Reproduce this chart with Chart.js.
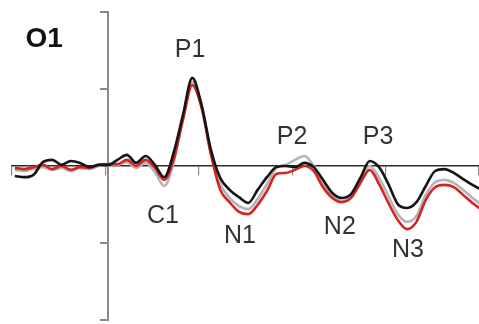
<!DOCTYPE html>
<html>
<head>
<meta charset="utf-8">
<style>
  html, body { margin: 0; padding: 0; background: #fff; }
  #wrap { width: 479px; height: 324px; }
</style>
<script src="https://cdn.jsdelivr.net/npm/chart.js@4"></script>
</head>
<body>
<div id="wrap"><canvas id="c" width="479" height="324"></canvas></div>
<script>
// time in ms
const times = [-100,-90,-80,-70,-60,-50,-40,-30,-20,-10,0,10,20,30,40,50,60,70,80,90,100,110,120,130,140,150,160,170,180,190,200,210,220,230,240,250,260,270,280,290,300,310,320,330,340,350,360,370,380,390,400];
// amplitude (µV)
const blackSeries = [-0.26,-0.29,-0.23,0.10,0.16,0.03,0.13,0.08,-0.03,0.03,0.03,0.16,0.29,0.08,0.26,0.03,-0.29,0.34,1.32,2.29,1.58,0.42,-0.31,-0.62,-0.81,-0.96,-0.62,-0.29,-0.03,0.00,-0.03,0.08,-0.03,-0.36,-0.70,-0.83,-0.73,-0.31,0.13,-0.03,-0.47,-0.99,-1.09,-0.94,-0.52,-0.13,-0.08,-0.18,-0.34,-0.49,-0.62];
const redSeries = [-0.05,-0.08,-0.03,0.03,-0.08,0.00,-0.10,-0.03,-0.05,0.03,0.05,0.05,0.16,0.00,0.16,-0.05,-0.36,0.16,1.19,2.10,1.51,0.29,-0.62,-0.94,-1.19,-1.25,-1.01,-0.65,-0.21,-0.18,-0.10,0.00,-0.13,-0.55,-0.83,-0.94,-0.83,-0.44,-0.10,-0.47,-0.96,-1.40,-1.64,-1.45,-0.88,-0.55,-0.49,-0.55,-0.75,-0.96,-1.14];
const greySeries = [-0.10,-0.13,-0.08,-0.03,-0.10,-0.05,-0.13,-0.05,-0.08,0.00,0.03,0.03,0.10,-0.05,0.08,-0.16,-0.52,0.08,1.25,2.18,1.56,0.34,-0.47,-0.83,-1.04,-1.12,-0.86,-0.47,-0.05,0.03,0.16,0.26,0.00,-0.44,-0.78,-0.91,-0.81,-0.39,0.00,-0.31,-0.78,-1.25,-1.45,-1.30,-0.75,-0.42,-0.36,-0.44,-0.62,-0.83,-1.01];
const yTicks = [-4,-2,0,2,4];
const xTickStep = 100;
// component labels anchored in data coordinates (ms, µV)
const peakLabels = ['P1','P2','P3','C1','N1','N2','N3'];
const peakT = [87.6,196.8,288.9,58.7,141,248,321];
const peakV = [3.01,0.75,0.75,-1.30,-1.82,-1.58,-2.18];
const channelLabel = 'O1';

function pts(vals) { return times.map((t, i) => ({ x: t, y: vals[i] })); }

const labelPlugin = {
  id: 'labels',
  afterDatasetsDraw(chart) {
    const { ctx, scales: { x, y } } = chart;
    ctx.save();
    ctx.fillStyle = '#333';
    ctx.font = '25px "Liberation Sans", Arial, sans-serif';
    ctx.textAlign = 'center';
    ctx.textBaseline = 'middle';
    peakLabels.forEach((s, i) => {
      ctx.fillText(s, x.getPixelForValue(peakT[i]), y.getPixelForValue(peakV[i]));
    });
    ctx.fillStyle = '#111';
    ctx.font = 'bold 28px "Liberation Sans", Arial, sans-serif';
    ctx.textAlign = 'left';
    ctx.fillText(channelLabel, x.getPixelForValue(-88.5), y.getPixelForValue(3.28));
    ctx.restore();
  }
};

new Chart(document.getElementById('c'), {
  type: 'line',
  data: {
    datasets: [
      { data: pts(blackSeries), borderColor: '#151515', borderWidth: 2.6, order: 1 },
      { data: pts(redSeries), borderColor: '#d42424', borderWidth: 2.6, order: 2 },
      { data: pts(greySeries), borderColor: '#b4b4b4', borderWidth: 2.6, order: 3 }
    ]
  },
  options: {
    responsive: false,
    animation: false,
    events: [],
    layout: { padding: { left: 12, right: 0, top: 12, bottom: 4 } },
    elements: { point: { radius: 0 }, line: { cubicInterpolationMode: 'monotone', fill: false } },
    plugins: { legend: { display: false }, tooltip: { enabled: false }, title: { display: false } },
    scales: {
      x: {
        type: 'linear', min: -103, max: 397,
        position: { y: 0 },
        ticks: { display: false, stepSize: xTickStep, includeBounds: false },
        grid: { display: true, drawOnChartArea: false, drawTicks: true, tickLength: 9, color: '#8a8a8a', lineWidth: 1.2 },
        border: { display: true, color: '#2a2a2a', width: 1.5 },
        afterFit(s) { s.height = 0; }
      },
      y: {
        type: 'linear', min: -4, max: 4,
        position: { x: 0 },
        afterBuildTicks(s) { s.ticks = yTicks.map(v => ({ value: v })); },
        ticks: { display: false },
        grid: { display: true, drawOnChartArea: false, drawTicks: true, tickLength: 7, color: '#8a8a8a', lineWidth: 2 },
        border: { display: true, color: '#8a8a8a', width: 2 },
        afterFit(s) { s.width = 0; }
      }
    }
  },
  plugins: [labelPlugin]
});
</script>
</body>
</html>
